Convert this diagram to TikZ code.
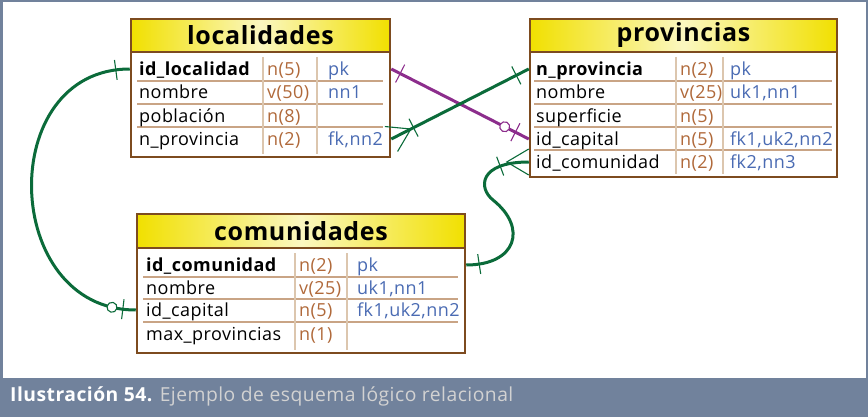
\documentclass[tikz,border=0pt]{standalone}
\usepackage{fontspec}
\setmainfont[LetterSpace=2.5]{Open Sans}
\usepackage{tikz}
\usetikzlibrary{decorations.markings}

\definecolor{brd}{HTML}{7D4B1F}
\definecolor{rowcol}{HTML}{C9A485}
\definecolor{colcol}{HTML}{DCC6AE}
\definecolor{typecol}{HTML}{B0693A}
\definecolor{keycol}{HTML}{4A6BB3}
\definecolor{relg}{HTML}{0B6B3A}
\definecolor{relp}{HTML}{8C2D8C}
\definecolor{hdy}{HTML}{F1E000}
\definecolor{hdl}{HTML}{FBF7C0}
\definecolor{capbg}{HTML}{71829C}
\definecolor{captxt}{HTML}{D2D2D2}

\begin{document}
\begin{tikzpicture}
      [x=1pt,y=-1pt,
       tablebox/.style={draw=brd,line width=2.5pt,fill=white,inner sep=0},
       header/.style={draw=brd,line width=2.5pt,left color=hdy,right color=hdy,middle color=hdl,inner sep=0,font=\fontsize{25}{29}\selectfont\bfseries},
       field/.style={anchor=west,inner sep=0,text height=15pt,text depth=2pt,font=\fontsize{18}{21}\selectfont},
       pkfield/.style={field,font=\fontsize{18}{21}\selectfont\bfseries},
       ftype/.style={field,text=typecol},
       fkey/.style={field,text=keycol},
       rowsep/.style={draw=rowcol,line width=1.5pt},
       colsep/.style={draw=colcol,line width=2pt},
       rel/.style={line width=3pt},
       tick at/.style 2 args={postaction={decorate,decoration={markings,
          mark=at position #1 with {\draw[line width=1.1pt,#2] (0,-10) -- (0,10);}}}},
       ring at/.style 2 args={postaction={decorate,decoration={markings,
          mark=at position #1 with {\draw[line width=1.1pt,#2,fill=white] (0,0) circle (5);}}}},
       crow start/.style={postaction={decorate,decoration={markings,
          mark=at position 0 with {\draw[line width=1.1pt,#1] (0,-14) -- (22,0) -- (0,14);}}}},
       crow end/.style={postaction={decorate,decoration={markings,
          mark=at position -0.01pt with {\draw[line width=1.1pt,#1] (0,-13) -- (-22,0) -- (0,13);}}}}]
        \useasboundingbox (0,0) rectangle (868,417);

        % frame and caption
        \fill[capbg] (0,378) rectangle (868,417);
        \draw[capbg,line width=2.5pt] (1.25,378) -- (1.25,1.25) -- (866.75,1.25) -- (866.75,378);
        \node[anchor=west,inner sep=0,font=\fontsize{19.3}{22}\selectfont] (cap) at (10,396)
          {\textcolor{white}{\bfseries Ilustración 54.} \textcolor{captxt}{Ejemplo de esquema lógico relacional}};

        % localidades
        \node[tablebox,minimum width=259,minimum height=138] (lbox) at (260.5,88) {};
        \node[header,minimum width=259,minimum height=33] (lhead) at (260.5,35.5) {localidades};
        \draw[rowsep] (137,81) -- (383,81) (137,104) -- (383,104) (137,127) -- (383,127);
        \draw[colsep] (263,57) -- (263,154) (317,57) -- (317,154);
        \node[pkfield] (l1) at (139,69) {id\_localidad};
        \node[ftype] (l1t) at (267,69) {n(5)};
        \node[fkey] (l1k) at (328,69) {pk};
        \node[field] (l2) at (139,92) {nombre};
        \node[ftype] (l2t) at (267,92) {v(50)};
        \node[fkey] (l2k) at (328,92) {nn1};
        \node[field] (l3) at (139,116) {población};
        \node[ftype] (l3t) at (267,116) {n(8)};
        \node[field] (l4) at (139,139) {n\_provincia};
        \node[ftype] (l4t) at (267,139) {n(2)};
        \node[fkey] (l4k) at (328,139) {fk,nn2};

        % provincias
        \node[tablebox,minimum width=307,minimum height=158] (pbox) at (683.5,98) {};
        \node[header,minimum width=307,minimum height=33] (phead) at (683.5,35.5) {provincias};
        \draw[rowsep] (534,81) -- (832,81) (534,104) -- (832,104) (534,127) -- (832,127) (534,150) -- (832,150);
        \draw[colsep] (676,57) -- (676,174) (723,57) -- (723,174);
        \node[pkfield] (p1) at (536,69) {n\_provincia};
        \node[ftype] (p1t) at (680,69) {n(2)};
        \node[fkey] (p1k) at (730,69) {pk};
        \node[field] (p2) at (536,92) {nombre};
        \node[ftype] (p2t) at (680,92) {v(25)};
        \node[fkey] (p2k) at (730,92) {uk1,nn1};
        \node[field] (p3) at (536,116) {superficie};
        \node[ftype] (p3t) at (680,116) {n(5)};
        \node[field] (p4) at (536,139) {id\_capital};
        \node[ftype] (p4t) at (680,139) {n(5)};
        \node[fkey] (p4k) at (730,139) {fk1,uk2,nn2};
        \node[field] (p5) at (536,162) {id\_comunidad};
        \node[ftype] (p5t) at (680,162) {n(2)};
        \node[fkey] (p5k) at (730,162) {fk2,nn3};

        % comunidades
        \node[tablebox,minimum width=328,minimum height=139] (cbox) at (301,283.5) {};
        \node[header,minimum width=328,minimum height=34] (chead) at (301,231) {comunidades};
        \draw[rowsep] (143,277) -- (458,277) (143,299) -- (458,299) (143,322) -- (458,322);
        \draw[colsep] (295,253) -- (295,350) (347,253) -- (347,350);
        \node[pkfield] (c1) at (146,265) {id\_comunidad};
        \node[ftype] (c1t) at (299,265) {n(2)};
        \node[fkey] (c1k) at (357,265) {pk};
        \node[field] (c2) at (146,288) {nombre};
        \node[ftype] (c2t) at (299,288) {v(25)};
        \node[fkey] (c2k) at (357,288) {uk1,nn1};
        \node[field] (c3) at (146,310) {id\_capital};
        \node[ftype] (c3t) at (299,310) {n(5)};
        \node[fkey] (c3k) at (357,310) {fk1,uk2,nn2};
        \node[field] (c4) at (146,334) {max\_provincias};
        \node[ftype] (c4t) at (299,334) {n(1)};

        % relations
        \draw[rel,relg,tick at={14pt}{relg},tick at={-13pt}{relg},ring at={-24pt}{relg}]
          (lbox.west |- l1) to[out=180,in=180,looseness=1.43] (cbox.west |- c3);
        \draw[rel,relp,tick at={10pt}{relp},tick at={-15pt}{relp},ring at={-27pt}{relp}]
          (lbox.east |- l1) -- (pbox.west |- p4);
        \draw[rel,relg,crow start=relg,tick at={25pt}{relg},tick at={-14pt}{relg}]
          (lbox.east |- l4) -- (pbox.west |- p1);
        \draw[rel,relg,tick at={13pt}{relg},crow end=relg,tick at={-29pt}{relg}]
          (cbox.east |- c1) .. controls +(50,0) and +(35,28) .. (493,200)
          .. controls +(-15,-12) and +(-50,0) .. (pbox.west |- p5);

      \end{tikzpicture}
\end{document}
